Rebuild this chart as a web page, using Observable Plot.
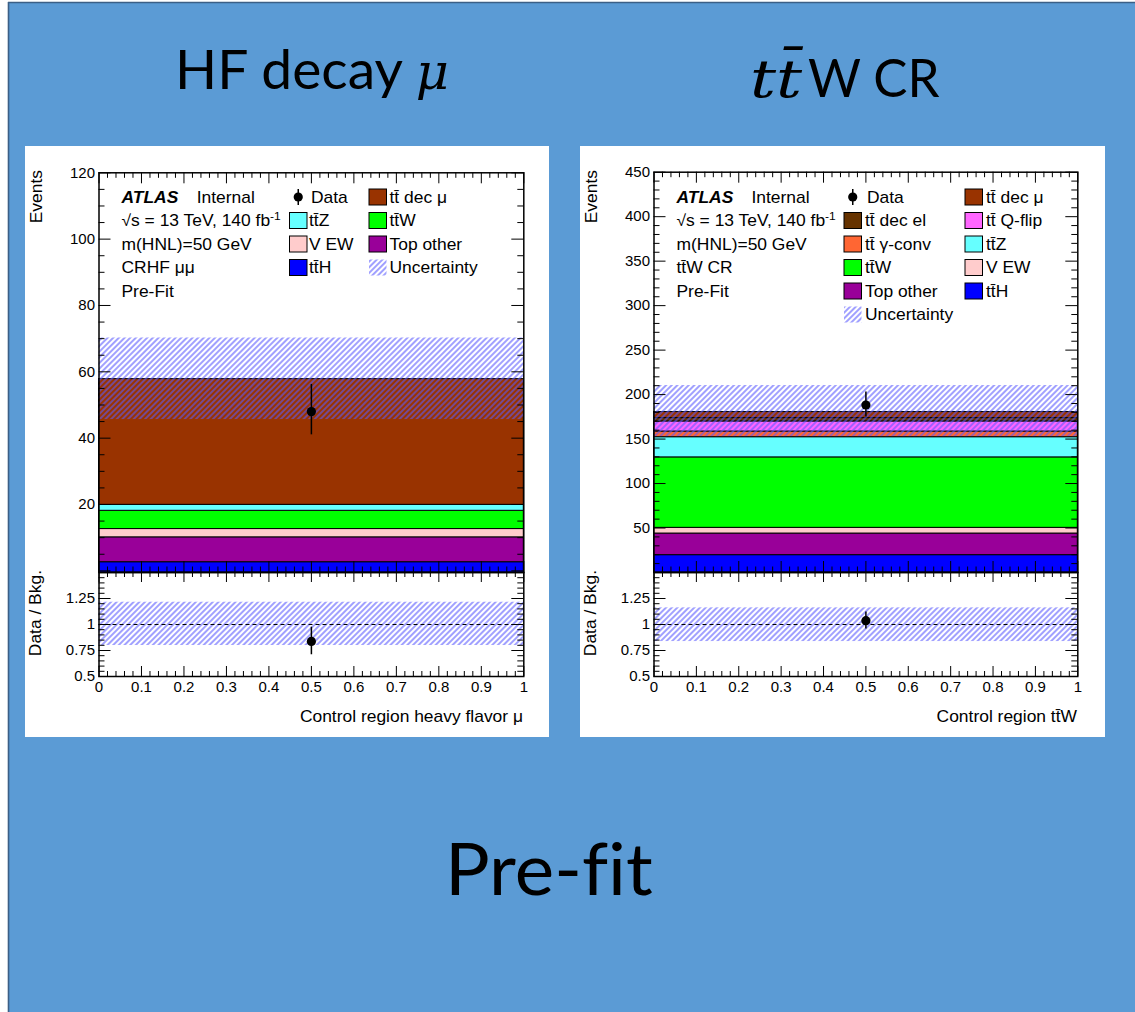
<!DOCTYPE html>
<html>
<head>
<meta charset="utf-8">
<script src="https://cdn.jsdelivr.net/npm/d3@7"></script>
<script src="https://cdn.jsdelivr.net/npm/@observablehq/plot@0.6"></script>
<style>
  html, body { margin: 0; padding: 0; }
  body { width: 1135px; height: 1012px; position: relative; overflow: hidden; background: #ffffff; }
  .layer { position: absolute; left: 0; top: 0; }
  .panel { position: absolute; }
  .panel svg { display: block; max-width: none; }
  text, tspan { font-variant-ligatures: none; font-feature-settings: "liga" 0; }
</style>
</head>
<body>
<svg id="bg" class="layer" width="1135" height="1012"></svg>
<svg id="defs" width="0" height="0" style="position:absolute;left:0;top:0">
  <defs>
    <pattern id="hatch" patternUnits="userSpaceOnUse" width="4" height="4" patternTransform="rotate(45)">
      <line x1="2" y1="-1" x2="2" y2="5" stroke="#5a5aff" stroke-width="1.15"/>
    </pattern>
  </defs>
</svg>
<div id="hfMain" class="panel"></div>
<div id="hfRatio" class="panel"></div>
<div id="ttwMain" class="panel"></div>
<div id="ttwRatio" class="panel"></div>
<svg id="ov" class="layer" width="1135" height="1012" style="pointer-events:none"></svg>
<script>
// ---------------- fonts / helpers ----------------
const SANS = "'Liberation Sans', Arial, Helvetica, sans-serif";
const TITLE_FONT = "Lato, 'Open Sans', sans-serif";
const MATH_FONT = "'DejaVu Serif', 'Liberation Serif', serif";
const TT = "tt\u0304";

// ---------------- shared axes ----------------
const xTickValues = [0, 0.1, 0.2, 0.3, 0.4, 0.5, 0.6, 0.7, 0.8, 0.9, 1];
const xTickLabels = ["0", "0.1", "0.2", "0.3", "0.4", "0.5", "0.6", "0.7", "0.8", "0.9", "1"];
const ratioTickValues = [0.5, 0.75, 1, 1.25];
const ratioTickLabels = ["0.5", "0.75", "1", "1.25"];

// ---------------- samples ----------------
const sampleNames  = ["tt dec mu", "tt dec el", "tt Q-flip", "tt gamma-conv", "ttZ", "ttW", "V EW", "Top other", "ttH"];
const sampleLabels = [TT + " dec \u03bc", TT + " dec el", TT + " Q-flip", TT + " \u03b3-conv", TT + "Z", TT + "W", "V EW", "Top other", TT + "H"];
const sampleColors = ["#993300", "#663300", "#ff66ff", "#ff6633", "#66ffff", "#00ff00", "#ffcccc", "#990099", "#0000ff"];

// ---------------- HF decay mu (CRHF mumu) ----------------
const hfSamples = ["ttH", "Top other", "V EW", "ttW", "ttZ", "tt dec mu"];   // bottom -> top
const hfYields  = [2.6, 7.5, 2.5, 5.5, 1.8, 37.9];
const hfUncBand = [45.6, 70.2];
const hfDataX   = [0.5];
const hfDataY   = [48.0];
const hfDataLo  = [41.0];
const hfDataHi  = [56.2];
const hfRatioY  = [0.837];
const hfRatioLo = [0.709];
const hfRatioHi = [0.974];
const hfRatioBand = [0.798, 1.214];
const hfYTicks  = [20, 40, 60, 80, 100, 120];
const hfYTickLabels = ["20", "40", "60", "80", "100", "120"];
const hfLegend  = ["Data", "tt dec mu", "ttZ", "ttW", "V EW", "Top other", "ttH", "Uncertainty"];
const hfInfo    = ["CRHF \u03bc\u03bc"];
const hfXTitle  = "Control region heavy flavor \u03bc";

// ---------------- ttW CR ----------------
const ttwSamples = ["ttH", "Top other", "V EW", "ttW", "ttZ", "tt gamma-conv", "tt Q-flip", "tt dec el", "tt dec mu"];
const ttwYields  = [19.5, 24.3, 6.4, 79.2, 22.7, 6.4, 11.3, 3.8, 6.8];
const ttwUncBand = [152.8, 210.2];
const ttwDataX   = [0.5];
const ttwDataY   = [188.3];
const ttwDataLo  = [174.7];
const ttwDataHi  = [203.0];
const ttwRatioY  = [1.037];
const ttwRatioLo = [0.956];
const ttwRatioHi = [1.121];
const ttwRatioBand = [0.836, 1.16];
const ttwYTicks  = [50, 100, 150, 200, 250, 300, 350, 400, 450];
const ttwYTickLabels = ["50", "100", "150", "200", "250", "300", "350", "400", "450"];
const ttwLegend  = ["Data", "tt dec mu", "tt dec el", "tt Q-flip", "tt gamma-conv", "ttZ", "ttW", "V EW", "Top other", "ttH", "Uncertainty"];
const ttwInfo    = [TT + "W CR"];
const ttwXTitle  = "Control region " + TT + "W";

const colorOf = n => sampleColors[sampleNames.indexOf(n)];
const labelOf = n => sampleLabels[sampleNames.indexOf(n)];

function majorsBetween(lo, hi, step) {
  const out = [];
  const n = Math.round((hi - lo) / step);
  for (let k = 0; k <= n; k++) out.push(+(lo + k * step).toFixed(6));
  return out;
}
function minorsBetween(lo, hi, step, majorStep) {
  return majorsBetween(lo, hi, step).filter(v => {
    const r = v / majorStep;
    return Math.abs(r - Math.round(r)) > 1e-6;
  });
}

const tickStyle = {stroke: "black", strokeWidth: 1};
function yTickMarks(majors, minors, fw, Lmaj, Lmin) {
  return [
    Plot.tickY(majors, {y: d => d, insetRight: fw - Lmaj, ...tickStyle}),
    Plot.tickY(majors, {y: d => d, insetLeft: fw - Lmaj, ...tickStyle}),
    Plot.tickY(minors, {y: d => d, insetRight: fw - Lmin, ...tickStyle}),
    Plot.tickY(minors, {y: d => d, insetLeft: fw - Lmin, ...tickStyle})
  ];
}
function xTickMarks(fh, Lmaj, Lmin) {
  const xMinors = minorsBetween(0, 1, 0.02, 0.1);
  return [
    Plot.tickX(xTickValues, {x: d => d, insetTop: fh - Lmaj, ...tickStyle}),
    Plot.tickX(xTickValues, {x: d => d, insetBottom: fh - Lmaj, ...tickStyle}),
    Plot.tickX(xMinors, {x: d => d, insetTop: fh - Lmin, ...tickStyle}),
    Plot.tickX(xMinors, {x: d => d, insetBottom: fh - Lmin, ...tickStyle})
  ];
}

function drawPanel(cfg) {
  const W = cfg.width, mL = cfg.marginLeft, mR = cfg.marginRight, mT = cfg.marginTop;
  const fw = W - mL - mR;
  const mainH = 426, mainFh = mainH - mT;
  const ratioH = 165, ratioMB = 61, ratioFh = ratioH - ratioMB;

  let acc = 0;
  const rows = cfg.samples.map((s, i) => {
    const y1 = i === 0 ? cfg.yDomain[0] : acc;
    acc += cfg.yields[i];
    return {sample: s, y1, y2: acc};
  });

  const yMaj = majorsBetween(0, cfg.yDomain[1], cfg.yMajorStep);
  const yMin = minorsBetween(0, cfg.yDomain[1], cfg.yMinorStep, cfg.yMajorStep);

  const main = Plot.plot({
    width: W, height: mainH,
    marginLeft: mL, marginRight: mR, marginTop: mT, marginBottom: 0,
    x: {domain: [0, 1], axis: null},
    y: {domain: cfg.yDomain},
    color: {type: "identity"},
    style: {fontFamily: SANS, fontSize: "15px", background: "none", overflow: "visible", color: "black"},
    marks: [
      Plot.rect(rows, {x1: () => 0, x2: () => 1, y1: "y1", y2: "y2", fill: d => colorOf(d.sample), stroke: "black", strokeWidth: 1}),
      Plot.rect([cfg.uncBand], {x1: () => 0, x2: () => 1, y1: d => d[0], y2: d => d[1], fill: "url(#hatch)"}),
      Plot.ruleX(cfg.dataX, {x: d => d, y1: (d, i) => cfg.dataLo[i], y2: (d, i) => cfg.dataHi[i], stroke: "black", strokeWidth: 1.5}),
      Plot.dot(cfg.dataX, {x: d => d, y: (d, i) => cfg.dataY[i], r: 4.6, fill: "black"}),
      ...yTickMarks(yMaj, yMin, fw, 12, 6),
      ...xTickMarks(mainFh, 11, 5.5),
      Plot.axisY(cfg.yTicks, {tickSize: 0, tickPadding: 4, label: null, fontSize: 15,
        tickFormat: d => cfg.yTickLabels[cfg.yTicks.indexOf(d)]}),
      Plot.frame({stroke: "black", strokeWidth: 1.5})
    ]
  });

  const rMaj = majorsBetween(0.5, 1.5, 0.25);
  const rMin = minorsBetween(0.5, 1.5, 0.05, 0.25);
  const ratio = Plot.plot({
    width: W, height: ratioH,
    marginLeft: mL, marginRight: mR, marginTop: 0, marginBottom: ratioMB,
    x: {domain: [0, 1]},
    y: {domain: [0.5, 1.5]},
    style: {fontFamily: SANS, fontSize: "15px", background: "none", overflow: "visible", color: "black"},
    marks: [
      Plot.rect([cfg.ratioBand], {x1: () => 0, x2: () => 1, y1: d => d[0], y2: d => d[1], fill: "url(#hatch)"}),
      Plot.ruleY([1], {stroke: "black", strokeWidth: 1, strokeDasharray: "4,3"}),
      Plot.ruleX(cfg.dataX, {x: d => d, y1: (d, i) => cfg.ratioLo[i], y2: (d, i) => cfg.ratioHi[i], stroke: "black", strokeWidth: 1.5}),
      Plot.dot(cfg.dataX, {x: d => d, y: (d, i) => cfg.ratioY[i], r: 4.6, fill: "black"}),
      ...yTickMarks(rMaj, rMin, fw, 12, 6),
      ...xTickMarks(ratioFh, 10, 5),
      Plot.axisY(ratioTickValues, {tickSize: 0, tickPadding: 4, label: null, fontSize: 15,
        tickFormat: d => ratioTickLabels[ratioTickValues.indexOf(d)]}),
      Plot.axisX(xTickValues, {tickSize: 0, tickPadding: 5, label: null, fontSize: 15,
        tickFormat: d => xTickLabels[xTickValues.indexOf(d)]}),
      Plot.frame({stroke: "black", strokeWidth: 1.5})
    ]
  });

  const md = document.getElementById(cfg.mainId);
  md.style.left = cfg.left + "px"; md.style.top = cfg.top + "px"; md.style.width = W + "px";
  md.appendChild(main);
  const rd = document.getElementById(cfg.ratioId);
  rd.style.left = cfg.left + "px"; rd.style.top = (cfg.top + mainH) + "px"; rd.style.width = W + "px";
  rd.appendChild(ratio);
}

// ---------------- background ----------------
const bg = d3.select("#bg");
bg.append("rect").attr("x", 0).attr("y", 0).attr("width", 1135).attr("height", 1012).attr("fill", "#ffffff");
bg.append("rect").attr("x", 8).attr("y", 2).attr("width", 1140).attr("height", 1020).attr("fill", "#5b9bd5");
bg.append("line").attr("x1", 8.5).attr("y1", 2).attr("x2", 8.5).attr("y2", 1012).attr("stroke", "#3b5f86").attr("stroke-width", 1.6);
bg.append("line").attr("x1", 8).attr("y1", 2.5).attr("x2", 1135).attr("y2", 2.5).attr("stroke", "#3b5f86").attr("stroke-width", 1.6);
bg.append("rect").attr("x", 25).attr("y", 146).attr("width", 524).attr("height", 591).attr("fill", "#ffffff");
bg.append("rect").attr("x", 580).attr("y", 146).attr("width", 525).attr("height", 591).attr("fill", "#ffffff");

// ---------------- panels ----------------
drawPanel({
  mainId: "hfMain", ratioId: "hfRatio", left: 25, top: 146, width: 524,
  marginLeft: 73.5, marginRight: 25.7, marginTop: 26.3,
  yDomain: [-0.5, 120], yMajorStep: 20, yMinorStep: 5,
  yTicks: hfYTicks, yTickLabels: hfYTickLabels,
  samples: hfSamples, yields: hfYields, uncBand: hfUncBand,
  dataX: hfDataX, dataY: hfDataY, dataLo: hfDataLo, dataHi: hfDataHi,
  ratioY: hfRatioY, ratioLo: hfRatioLo, ratioHi: hfRatioHi, ratioBand: hfRatioBand
});
drawPanel({
  mainId: "ttwMain", ratioId: "ttwRatio", left: 580, top: 146, width: 525,
  marginLeft: 73.5, marginRight: 27.7, marginTop: 25.7,
  yDomain: [0, 450], yMajorStep: 50, yMinorStep: 10,
  yTicks: ttwYTicks, yTickLabels: ttwYTickLabels,
  samples: ttwSamples, yields: ttwYields, uncBand: ttwUncBand,
  dataX: ttwDataX, dataY: ttwDataY, dataLo: ttwDataLo, dataHi: ttwDataHi,
  ratioY: ttwRatioY, ratioLo: ttwRatioLo, ratioHi: ttwRatioHi, ratioBand: ttwRatioBand
});

// ---------------- overlay texts ----------------
const ov = d3.select("#ov");
const SX = 1.09, FS = 16;
function label(x, y, parts, opt = {}) {
  const {anchor = "start", sx = SX, rotate = 0, size = FS} = opt;
  const g = ov.append("g").attr("transform", `translate(${x},${y}) rotate(${rotate}) scale(${sx},1)`);
  const t = g.append("text").attr("font-family", SANS).attr("font-size", size)
    .attr("text-anchor", anchor).attr("fill", "#000");
  (Array.isArray(parts) ? parts : [parts]).forEach(p => {
    if (typeof p === "string") { t.append("tspan").text(p); return; }
    const ts = t.append("tspan").text(p.text);
    if (p.weight) ts.attr("font-weight", p.weight);
    if (p.style) ts.attr("font-style", p.style);
    if (p.sup) ts.attr("dy", -6).attr("font-size", 11);
  });
  return g;
}

const rowY = [197, 220.5, 244, 267.5, 291, 314.5];
const BASE = 5.8;

function atlasBlock(x, xInternal, info) {
  label(x, rowY[0] + BASE, [{text: "ATLAS", weight: "bold", style: "italic"}]);
  label(xInternal, rowY[0] + BASE, "Internal");
  label(x, rowY[1] + BASE, ["\u221As = 13 TeV, 140 fb", {text: "-1", sup: true}]);
  label(x, rowY[2] + BASE, "m(HNL)=50 GeV");
  label(x, rowY[3] + BASE, info[0]);
  label(x, rowY[4] + BASE, "Pre-Fit");
}

function legendBlock(entries, c1Box, c1Text, c2Box, c2Text) {
  const bw = 17.5, bh = 16;
  entries.forEach((key, i) => {
    const row = Math.floor(i / 2), col = i % 2;
    const cy = rowY[row];
    const bx = col ? c2Box : c1Box;
    const tx = col ? c2Text : c1Text;
    if (key === "Data") {
      ov.append("line").attr("x1", bx + bw / 2).attr("x2", bx + bw / 2).attr("y1", cy - 8).attr("y2", cy + 8)
        .attr("stroke", "#000").attr("stroke-width", 1.5);
      ov.append("circle").attr("cx", bx + bw / 2).attr("cy", cy).attr("r", 4.6).attr("fill", "#000");
      label(tx + 2, cy + BASE, "Data");
    } else if (key === "Uncertainty") {
      ov.append("rect").attr("x", bx).attr("y", cy - bh / 2).attr("width", bw).attr("height", bh).attr("fill", "url(#hatch)");
      label(tx, cy + BASE, "Uncertainty");
    } else {
      ov.append("rect").attr("x", bx).attr("y", cy - bh / 2).attr("width", bw).attr("height", bh)
        .attr("fill", colorOf(key)).attr("stroke", "#000").attr("stroke-width", 1);
      label(tx, cy + BASE, labelOf(key));
    }
  });
}

// left panel texts
atlasBlock(121.5, 196.7, hfInfo);
legendBlock(hfLegend, 289.5, 309, 369, 389.5);
label(41.5, 170, "Events", {anchor: "end", rotate: -90});
label(41, 570, "Data / Bkg.", {anchor: "end", rotate: -90});
label(523, 722, hfXTitle, {anchor: "end"});

// right panel texts
atlasBlock(676.5, 751.5, ttwInfo);
legendBlock(ttwLegend, 844, 865, 965, 986);
label(596.5, 170, "Events", {anchor: "end", rotate: -90});
label(596, 570, "Data / Bkg.", {anchor: "end", rotate: -90});
label(1077, 722, ttwXTitle, {anchor: "end"});

// ---------------- slide titles ----------------
function fitTitle(x, baseline, targetW, parts) {
  const g = ov.append("g").attr("transform", `translate(${x},${baseline})`);
  const t = g.append("text").attr("fill", "#000");
  parts.forEach(p => {
    const ts = t.append("tspan").text(p.text).attr("font-family", p.family).attr("font-size", p.size);
    if (p.italic) ts.attr("font-style", "italic");
  });
  const bb = t.node().getBBox();
  const s = targetW / bb.width;
  t.attr("transform", `translate(${-bb.x * s},0) scale(${s},1)`);
}
fitTitle(175, 89, 274, [
  {text: "HF decay ", family: TITLE_FONT, size: 54},
  {text: "\u03bc", family: MATH_FONT, size: 50, italic: true}
]);
fitTitle(750, 96.5, 54, [
  {text: "t", family: MATH_FONT, size: 52, italic: true},
  {text: "t\u0304", family: MATH_FONT, size: 52, italic: true}
]);
fitTitle(808, 96.5, 132, [
  {text: "W CR", family: TITLE_FONT, size: 52}
]);
fitTitle(445, 895, 208, [
  {text: "Pre-fit", family: TITLE_FONT, size: 72}
]);
</script>
</body>
</html>
